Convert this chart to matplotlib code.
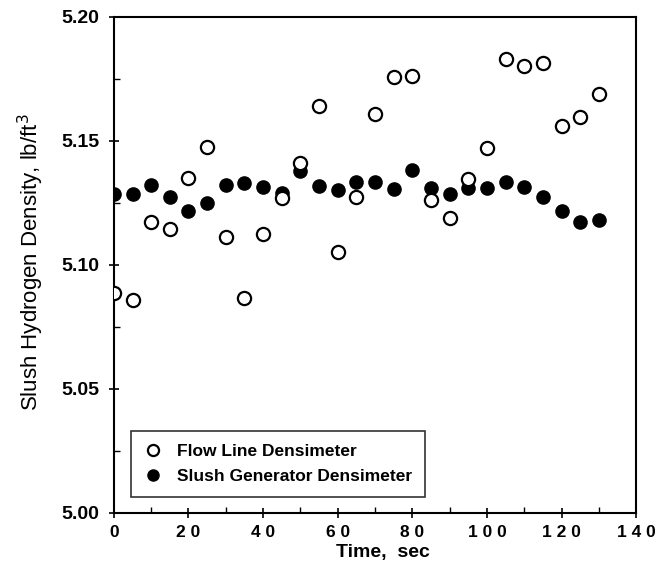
import matplotlib
matplotlib.use("Agg")
import matplotlib.pyplot as plt
from matplotlib.ticker import MultipleLocator

time_s = [0, 5, 10, 15, 20, 25, 30, 35, 40, 45, 50, 55, 60, 65, 70, 75,
          80, 85, 90, 95, 100, 105, 110, 115, 120, 125, 130]
flow_line = [5.0885, 5.0857, 5.1172, 5.1143, 5.135, 5.1476, 5.1114, 5.0868,
             5.1125, 5.1268, 5.1412, 5.164, 5.1052, 5.1273, 5.1608, 5.1759,
             5.176, 5.1262, 5.119, 5.1345, 5.147, 5.183, 5.1803, 5.1815,
             5.156, 5.1597, 5.1688]
slush_gen = [5.1286, 5.1286, 5.1324, 5.1275, 5.1218, 5.1251, 5.1324, 5.133,
             5.1313, 5.1289, 5.138, 5.1319, 5.130, 5.1333, 5.1336, 5.1305,
             5.1384, 5.131, 5.1287, 5.131, 5.131, 5.1333, 5.1314, 5.1274,
             5.1217, 5.1173, 5.118]
labels = ["Flow Line Densimeter", "Slush Generator Densimeter"]

plt.rcParams['font.family'] = ['Liberation Sans', 'DejaVu Sans']

fig = plt.figure(figsize=(6.62, 5.71), dpi=100)
ax = fig.add_axes([0.172, 0.1016, 0.789, 0.869])

ax.plot(time_s, slush_gen, linestyle='none', marker='o', markersize=9.5,
        markerfacecolor='black', markeredgecolor='black', label=labels[1], zorder=3)
ax.plot(time_s, flow_line, linestyle='none', marker='o', markersize=9.5,
        markerfacecolor='white', markeredgecolor='black', markeredgewidth=1.6,
        label=labels[0], zorder=4)

ax.set_xlim(0, 140)
ax.set_ylim(5.00, 5.20)
ax.xaxis.set_major_locator(MultipleLocator(20))
ax.xaxis.set_minor_locator(MultipleLocator(10))
ax.yaxis.set_major_locator(MultipleLocator(0.05))
ax.yaxis.set_minor_locator(MultipleLocator(0.025))
ax.tick_params(which='major', direction='inout', length=7, width=1.2,
               top=False, right=False)
ax.tick_params(axis='y', which='major', labelsize=14, pad=7)
ax.tick_params(axis='x', which='major', labelsize=12.5, pad=5)
ax.tick_params(which='minor', direction='in', length=4, width=1.0,
               top=False, right=False)
ax.set_yticklabels([f"{v:.2f}" for v in ax.get_yticks()], fontweight='bold')
ax.set_xticklabels([" ".join(str(int(v))) if v > 0 else "0" for v in ax.get_xticks()],
                   fontweight='bold')
for s in ax.spines.values():
    s.set_linewidth(1.5)

ax.set_xlabel("Time,  sec", fontsize=14, fontweight='bold', labelpad=2)
ax.xaxis.set_label_coords(0.515, -0.062)
ax.set_ylabel("Slush Hydrogen Density, lb/ft$^3$", fontsize=16, labelpad=10)
ax.yaxis.set_label_coords(-0.129, 0.505)

handles, labs = ax.get_legend_handles_labels()
leg = ax.legend(handles[::-1], labs[::-1], loc='lower left',
                bbox_to_anchor=(0.033, 0.032), frameon=True, fancybox=False,
                edgecolor='black', prop={'weight': 'bold', 'size': 12.5},
                handletextpad=0.9, borderpad=0.75, labelspacing=0.55,
                handlelength=1.0, borderaxespad=0)
leg.get_frame().set_linewidth(1.2)
for h in leg.legend_handles:
    h.set_markersize(8)

fig.savefig("out.png", dpi=100, facecolor='white')
